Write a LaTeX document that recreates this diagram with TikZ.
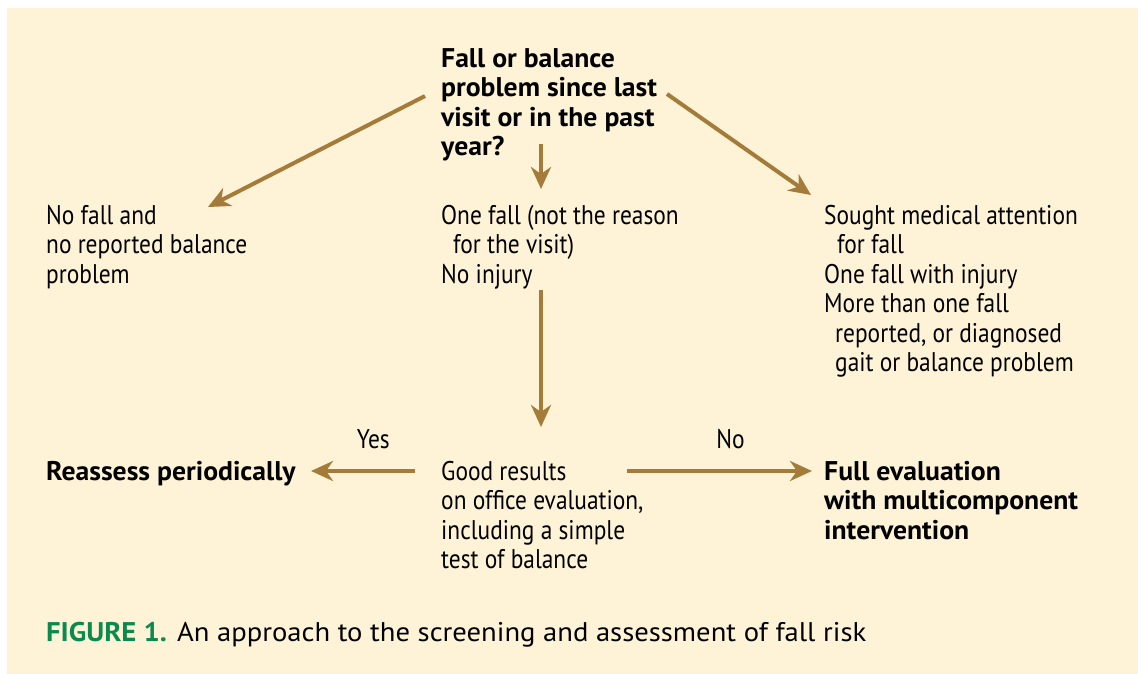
\documentclass[tikz,border=0pt]{standalone}
\usepackage{fontspec}
\setmainfont{PT Sans}[FakeStretch=0.867]
\newfontfamily\boldfam{PT Sans}[FakeStretch=1.025]
\newfontfamily\capfont{PT Sans}[FakeStretch=1.06]
\usetikzlibrary{arrows.meta}
\definecolor{bgyellow}{HTML}{FEF3D7}
\definecolor{arrowbrown}{HTML}{A57B3A}
\definecolor{figgreen}{HTML}{0B8A4E}
\tikzset{
  txt/.style={anchor=base west, inner sep=0pt, align=left, font=\fontsize{27}{29.5}\selectfont},
  btxt/.style={txt, font=\boldfam\fontsize{27}{29.5}\selectfont\bfseries},
  flow/.style={draw=arrowbrown, line width=4pt, -{Stealth[length=22pt,width=20pt,inset=7pt]}},
  lbl/.style={anchor=base, inner sep=0pt, font=\fontsize{27}{29.5}\selectfont},
}
\begin{document}
\begin{tikzpicture}[x=1pt,y=-1pt]
\useasboundingbox (0,0) rectangle (1138,674);
\fill[bgyellow] (7,8) rectangle (1138,674);

% base anchor = baseline of the last line
\node[btxt] (q) at (441,155.5) {Fall or balance\\problem since last\\visit or in the past\\year?};
\node[txt] (nofall) at (46,283) {No fall and\\no reported balance\\problem};
\node[txt] (onefall) at (441,283) {One fall (not the reason\\\hspace*{12pt}for the visit)\\No injury};
\node[txt] (sought) at (824,371.5) {Sought medical attention\\\hspace*{13pt}for fall\\One fall with injury\\More than one fall\\\hspace*{11pt}reported, or diagnosed\\\hspace*{11pt}gait or balance problem};
\node[btxt] (reassess) at (46,480) {Reassess periodically};
\node[txt] (good) at (441,568.5) {Good results\\on office evaluation,\\including a simple\\test of balance};
\node[btxt] (full) at (824,539) {Full evaluation\\with multicomponent\\intervention};

\coordinate (a1s) at (425,96);  \coordinate (a1e) at (208,207);
\coordinate (a2s) at (541,144); \coordinate (a2e) at (541,189);
\coordinate (a3s) at (667,94);  \coordinate (a3e) at (811,195);
\coordinate (a4s) at (541,290); \coordinate (a4e) at (541,427);
\coordinate (a5s) at (415,471); \coordinate (a5e) at (311,471);
\coordinate (a6s) at (627,471); \coordinate (a6e) at (812,471);

\draw[flow] (a1s) -- (a1e);
\draw[flow] (a2s) -- (a2e);
\draw[flow] (a3s) -- (a3e);
\draw[flow] (a4s) -- (a4e);
\draw[flow] (a5s) -- node[lbl, pos=0.4, yshift=23pt] (yes) {Yes} (a5e);
\draw[flow] (a6s) -- node[lbl, pos=0.56, yshift=23pt] (no) {No} (a6e);

\node[anchor=base west, inner sep=0pt, font=\capfont\fontsize{27}{29.5}\selectfont] (cap) at (46,641) {\textcolor{figgreen}{\bfseries FIGURE 1.} An approach to the screening and assessment of fall risk};
\end{tikzpicture}
\end{document}
